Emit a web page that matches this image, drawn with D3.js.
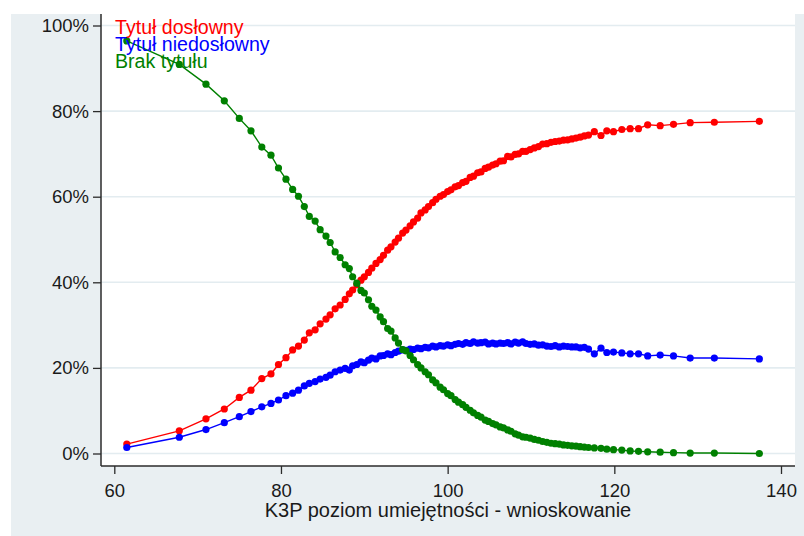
<!DOCTYPE html>
<html>
<head>
<meta charset="utf-8">
<script src="https://cdn.jsdelivr.net/npm/d3@7"></script>
<style>
  body { margin: 0; background: #fff; }
  text { font-family: "Liberation Sans", Arial, Helvetica, sans-serif; }
</style>
</head>
<body>
<div id="container"></div>
<script>
// K3P skill level (x) shared by all three series
const skill = [61.5, 67.8, 71.0, 73.2, 75.0, 76.4, 77.7, 78.8, 79.7, 80.6,
    81.4, 82.1, 82.8, 83.4, 84.1, 84.7, 85.4, 85.9, 86.5, 87.1,
    87.7, 88.2, 88.6, 89.1, 89.6, 90.0, 90.5, 90.9, 91.4, 91.9,
    92.3, 92.8, 93.2, 93.7, 94.1, 94.6, 95.0, 95.5, 95.9, 96.4,
    96.8, 97.3, 97.7, 98.2, 98.6, 99.1, 99.5, 100.0, 100.4, 100.9,
    101.3, 101.8, 102.2, 102.7, 103.1, 103.6, 104.0, 104.5, 104.9, 105.4,
    105.8, 106.3, 106.7, 107.2, 107.6, 108.1, 108.5, 109.0, 109.4, 109.9,
    110.4, 110.9, 111.4, 111.9, 112.4, 112.9, 113.4, 113.9, 114.4, 114.9,
    115.4, 115.9, 116.4, 116.9, 117.6, 118.4, 119.1, 119.9, 120.9, 121.9,
    122.9, 124.0, 125.5, 127.1, 129.1, 132.0, 137.4];

// Tytuł dosłowny (%)
const literal = [2.2, 5.3, 8.1, 10.4, 13.1, 14.8, 17.5, 18.6, 20.8, 22.4,
    24.2, 25.1, 26.5, 28.2, 28.9, 30.3, 31.4, 32.4, 33.8, 34.7,
    36.0, 37.3, 38.2, 39.4, 40.5, 41.3, 42.3, 43.3, 44.4, 45.3,
    46.3, 47.5, 48.3, 49.4, 50.3, 51.5, 52.2, 53.2, 54.1, 55.0,
    56.2, 56.9, 57.7, 58.6, 59.4, 60.1, 60.5, 61.2, 61.6, 62.3,
    62.6, 63.3, 63.6, 64.5, 64.8, 65.6, 65.8, 66.6, 66.9, 67.4,
    67.7, 68.3, 68.4, 69.4, 69.3, 69.9, 70.0, 70.6, 70.6, 71.0,
    71.4, 71.7, 72.3, 72.4, 72.7, 72.9, 73.0, 73.2, 73.3, 73.5,
    73.7, 73.9, 74.2, 74.4, 75.2, 74.3, 75.4, 75.2, 75.7, 75.9,
    75.9, 76.8, 76.6, 76.9, 77.3, 77.4, 77.6];

// Tytuł niedosłowny (%)
const nonLiteral = [1.4, 3.8, 5.6, 7.2, 8.6, 9.8, 10.9, 11.7, 12.5, 13.5,
    14.1, 14.8, 15.8, 16.4, 16.8, 17.4, 17.8, 18.3, 19.1, 19.5,
    19.9, 19.5, 20.5, 20.8, 21.4, 21.2, 21.8, 22.3, 22.1, 22.8,
    22.9, 23.3, 23.1, 23.6, 23.9, 24.2, 24.1, 24.4, 24.3, 24.6,
    24.5, 24.8, 24.7, 25.1, 24.9, 25.2, 25.1, 25.4, 25.2, 25.5,
    25.7, 25.5, 25.9, 25.7, 26.1, 25.8, 25.9, 26.0, 25.6, 25.8,
    25.6, 25.8, 25.7, 25.9, 25.6, 26.0, 25.8, 26.1, 25.7, 25.5,
    25.6, 25.3, 25.4, 25.1, 25.0, 25.2, 24.9, 25.1, 25.0, 24.9,
    24.9, 24.7, 24.8, 24.4, 23.3, 24.6, 23.6, 23.7, 23.5, 23.3,
    23.3, 22.8, 23.0, 22.8, 22.3, 22.3, 22.1];

// Brak tytułu (%)
const noTitle = [96.4, 90.9, 86.3, 82.4, 78.3, 75.4, 71.6, 69.7, 66.7, 64.1,
    61.7, 60.1, 57.7, 55.4, 54.3, 52.3, 50.8, 49.3, 47.1, 45.8,
    44.1, 43.2, 41.3, 39.8, 38.1, 37.5, 35.9, 34.4, 33.5, 31.9,
    30.8, 29.2, 28.6, 27.0, 25.8, 24.3, 24.0, 22.9, 21.9, 20.8,
    20.0, 19.1, 18.4, 17.2, 16.5, 15.5, 14.9, 14.0, 13.5, 12.6,
    12.0, 11.4, 10.8, 10.1, 9.5, 8.9, 8.5, 7.8, 7.5, 7.0,
    6.7, 6.2, 6.0, 5.5, 5.2, 4.6, 4.3, 3.9, 3.8, 3.6,
    3.3, 3.1, 2.8, 2.6, 2.4, 2.3, 2.2, 2.0, 1.9, 1.8,
    1.7, 1.6, 1.5, 1.4, 1.3, 1.2, 1.0, 0.9, 0.8, 0.6,
    0.5, 0.4, 0.3, 0.2, 0.1, 0.1, 0.0];

const seriesNames = ["Tytuł dosłowny", "Tytuł niedosłowny", "Brak tytułu"];
const seriesColors = ["#ff0000", "#0000ff", "#008000"];
const xTicks = [60, 80, 100, 120, 140];
const yTicks = [0, 20, 40, 60, 80, 100];
const xTitle = "K3P poziom umiejętności - wnioskowanie";

function draw() {
    const width = 804;
    const height = 536;

    const plotLeft = 101;
    const plotRight = 795;
    const plotTop = 14;
    const plotBottom = 466;
    const bgColor = "#e9eff2";
    const axisColor = "#2b2b2b";

    const svg = d3.select('#container')
        .append('svg')
        .attr('width', width)
        .attr('height', height);

    // graph region background + white plot region
    svg.append("rect")
        .attr("x", 11).attr("y", plotTop)
        .attr("width", width - 11).attr("height", height - plotTop)
        .attr("fill", bgColor);
    svg.append("rect")
        .attr("x", plotLeft).attr("y", plotTop)
        .attr("width", plotRight - plotLeft).attr("height", plotBottom - plotTop)
        .attr("fill", "#fff");

    const x = d3.scaleLinear().domain([60, 140]).range([114.3, 781]);
    const y = d3.scaleLinear().domain([0, 100]).range([453.5, 25.5]);

    // gridlines
    svg.append("g")
        .selectAll("line")
        .data(yTicks)
        .join("line")
        .attr("x1", plotLeft).attr("x2", plotRight)
        .attr("y1", d => y(d)).attr("y2", d => y(d))
        .attr("stroke", "#e3ecf0")
        .attr("stroke-width", 1.6);

    // axes
    const yAxis = svg.append("g")
        .attr("transform", `translate(${plotLeft},0)`)
        .call(d3.axisLeft(y).tickValues(yTicks).tickFormat(d => d + "%").tickSize(8).tickPadding(4));
    const xAxis = svg.append("g")
        .attr("transform", `translate(0,${plotBottom})`)
        .call(d3.axisBottom(x).tickValues(xTicks).tickSize(8).tickPadding(10));

    [yAxis, xAxis].forEach(a => {
        a.select(".domain").remove();
        a.selectAll(".tick line").attr("stroke", axisColor).attr("stroke-width", 1.3);
        a.selectAll(".tick text")
            .attr("fill", "#1a1a1a")
            .style("font-size", "18.5px")
            .style("font-family", '"Liberation Sans", Arial, sans-serif');
    });

    svg.append("line")
        .attr("x1", plotLeft).attr("x2", plotLeft)
        .attr("y1", plotTop).attr("y2", plotBottom)
        .attr("stroke", axisColor).attr("stroke-width", 1.5);
    svg.append("line")
        .attr("x1", plotLeft).attr("x2", plotRight)
        .attr("y1", plotBottom).attr("y2", plotBottom)
        .attr("stroke", axisColor).attr("stroke-width", 1.5);

    svg.append("text")
        .attr("x", (plotLeft + plotRight) / 2)
        .attr("y", 516.5)
        .attr("text-anchor", "middle")
        .attr("fill", "#1a1a1a")
        .style("font-size", "20px")
        .text(xTitle);

    // series
    const allSeries = [literal, nonLiteral, noTitle];
    const line = d3.line()
        .x(d => x(d[0]))
        .y(d => y(d[1]));

    allSeries.forEach((vals, i) => {
        const pts = skill.map((s, j) => [s, vals[j]]);
        const g = svg.append("g");
        g.append("path")
            .datum(pts)
            .attr("d", line)
            .attr("fill", "none")
            .attr("stroke", seriesColors[i])
            .attr("stroke-width", 1.4);
        g.selectAll("circle")
            .data(pts)
            .join("circle")
            .attr("cx", d => x(d[0]))
            .attr("cy", d => y(d[1]))
            .attr("r", 3.6)
            .attr("fill", seriesColors[i]);
    });

    // legend (text only, in plot corner)
    svg.append("g")
        .selectAll("text")
        .data(seriesNames)
        .join("text")
        .attr("x", 115)
        .attr("y", (d, i) => 34 + i * 16.8)
        .attr("fill", (d, i) => seriesColors[i])
        .style("font-size", "19.6px")
        .text(d => d);
}

draw();
</script>
</body>
</html>
